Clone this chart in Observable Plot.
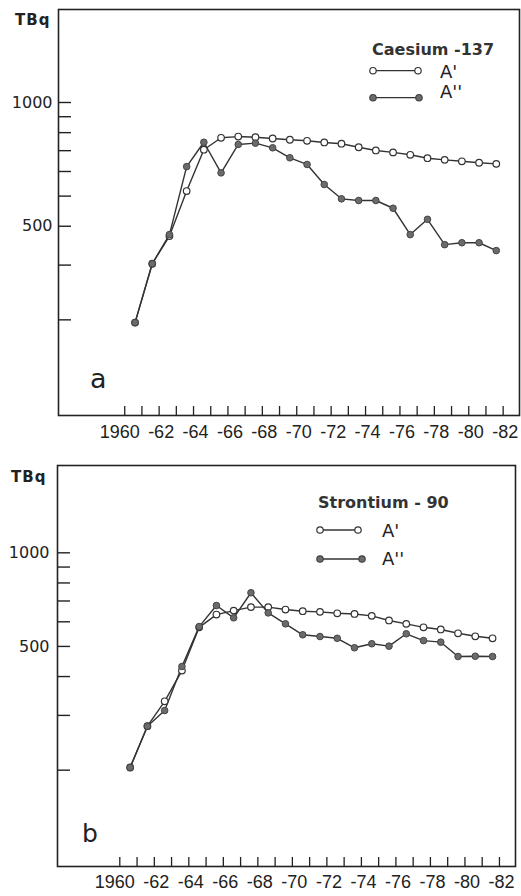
<!DOCTYPE html>
<html><head><meta charset="utf-8">
<script src="https://cdn.jsdelivr.net/npm/d3@7"></script>
<script src="https://cdn.jsdelivr.net/npm/@observablehq/plot@0.6"></script>
<style>
body{margin:0;background:#fff;}
#wrap{position:relative;width:521px;height:896px;overflow:hidden;}
#wrap svg{position:absolute;left:0;}
</style></head><body><div id="wrap"></div>
<script>
// ---- data ----
const years = d3.range(1960, 1982); // 1960..1981 (annual values, plotted mid-year)
const csAprime  = [196,303,372,519,705,770,777,773,766,759,753,744,737,718,701,691,679,662,654,647,640,635];
const csAdouble = [196,303,376,622,745,594,733,740,715,664,632,545,490,484,484,457,376,421,349,354,354,334];
const srAprime  = [204,277,333,418,576,633,652,669,669,657,649,646,639,636,627,606,591,576,567,551,539,531];
const srAdouble = [204,277,311,431,579,677,618,744,641,591,545,538,531,495,510,501,549,522,516,464,465,464];
const tickYears = d3.range(1960, 1983);
const labelYears = d3.range(1960, 1983, 2);
const yTicks = [1000, 900, 800, 700, 600, 500, 400, 300, 200];
const yLabelsA = [[1000, "1000"], [400, "500"]];
const yLabelsB = [[1000, "1000"], [500, "500"]];
const unit = "TBq";
const seriesNames = ["A'", "A''"];

const midYear = 0.6;
const xFmt = d => d === 1960 ? "1960" : "-" + String(d).slice(2);

function panel(cfg) {
  const rows = years.map((y, i) => ({year: y, a: cfg.a[i], b: cfg.b[i]}));
  const lab = new Map(cfg.yLabels);
  const X = d => d.year + midYear;
  const svg = Plot.plot({
    width: 521, height: cfg.height,
    marginTop: cfg.mt, marginBottom: cfg.mb, marginLeft: cfg.ml, marginRight: cfg.mr,
    x: {domain: cfg.xDomain, label: null},
    y: {type: "log", domain: cfg.yDomain, label: null},
    style: {fontFamily: "DejaVu Sans", color: "#222", background: "transparent", overflow: "visible"},
    marks: [
      Plot.frame({stroke: "#222", strokeWidth: 1.6}),
      Plot.axisY({ticks: yTicks, tickSize: -13, tickFormat: () => "", strokeWidth: 1.4, stroke: "#222"}),
      Plot.axisY({ticks: cfg.yLabels.map(d => d[0]), tickSize: 0, tickPadding: cfg.yPad, tickFormat: v => lab.get(v), fontSize: 16, fill: "#222"}),
      Plot.axisX({ticks: tickYears, tickSize: -9, tickFormat: () => "", strokeWidth: 1.3, stroke: "#222"}),
      Plot.axisX({ticks: labelYears, tickSize: 0, tickPadding: cfg.xPad, tickFormat: xFmt, fontSize: 18, fontFamily: "Liberation Sans", fill: "#222"}),
      Plot.line(rows, {x: X, y: "a", stroke: "#333", strokeWidth: 1.4}),
      Plot.line(rows, {x: X, y: "b", stroke: "#333", strokeWidth: 1.4}),
      Plot.dot(rows, {x: X, y: "a", r: 3.3, fill: "white", stroke: "#333", strokeWidth: 1.2}),
      Plot.dot(rows, {x: X, y: "b", r: 3.3, fill: "#6b6b6b", stroke: "#444", strokeWidth: 1})
    ]
  });
  svg.style.top = cfg.top + "px";
  const s = d3.select(svg);
  // nudge year labels like the printed figure (1960 sits a bit left, dashed labels a bit right)
  s.selectAll("text").each(function () {
    const t = this.textContent;
    if (t === "1960") d3.select(this).attr("dx", -5);
    else if (/^-\d\d$/.test(t)) d3.select(this).attr("dx", 2);
  });
  const T = (x, y) => s.append("text").attr("x", x).attr("y", y).attr("text-anchor", "start")
    .attr("font-family", "DejaVu Sans").attr("fill", "#222");
  T(cfg.unitX, cfg.unitY).attr("font-weight", "bold").attr("font-size", 15).attr("letter-spacing", 1).text(unit);
  T(cfg.letterX, cfg.letterY).attr("font-size", cfg.letterSize).text(cfg.letter);
  T(cfg.titleX, cfg.titleY).attr("font-weight", "bold").attr("font-size", 16).attr("fill", "#333").text(cfg.title);
  cfg.legend.forEach((r, i) => {
    const g = s.append("g");
    g.append("line").attr("x1", r.x1).attr("x2", r.x2).attr("y1", r.y).attr("y2", r.y)
      .attr("stroke", "#333").attr("stroke-width", 1.3);
    [r.x1, r.x2].forEach(cx => g.append("circle").attr("cx", cx).attr("cy", r.y).attr("r", 3.2)
      .attr("fill", i === 0 ? "white" : "#6b6b6b").attr("stroke", i === 0 ? "#333" : "#444").attr("stroke-width", 1.2));
    T(r.tx, r.ty).attr("font-size", 18).text(seriesNames[i]);
  });
  return svg;
}

const wrap = document.getElementById("wrap");
wrap.append(panel({
  a: csAprime, b: csAdouble, top: 0, height: 448,
  mt: 9, mb: 33, ml: 58, mr: 2,
  xDomain: [1956.15, 1982.95], yDomain: [98.5, 1991],
  yLabels: yLabelsA, yPad: 6, xPad: 10,
  unitX: 15, unitY: 25, letter: "a", letterX: 90, letterY: 388, letterSize: 27,
  title: "Caesium -137", titleX: 372, titleY: 55,
  legend: [{x1: 373, x2: 418, y: 70.7, tx: 440, ty: 77.5}, {x1: 373, x2: 419, y: 97.7, tx: 440, ty: 98.3}]
}));
wrap.append(panel({
  a: srAprime, b: srAdouble, top: 448, height: 448,
  mt: 17, mb: 30, ml: 57, mr: 6,
  xDomain: [1956.39, 1982.93], yDomain: [98.0, 1909],
  yLabels: yLabelsB, yPad: 8, xPad: 9,
  unitX: 11, unitY: 34, letter: "b", letterX: 82, letterY: 394, letterSize: 25,
  title: "Strontium - 90", titleX: 318, titleY: 60,
  legend: [{x1: 320, x2: 358, y: 82, tx: 382, ty: 88.7}, {x1: 320, x2: 362, y: 111, tx: 382, ty: 117}]
}));
</script></body></html>
